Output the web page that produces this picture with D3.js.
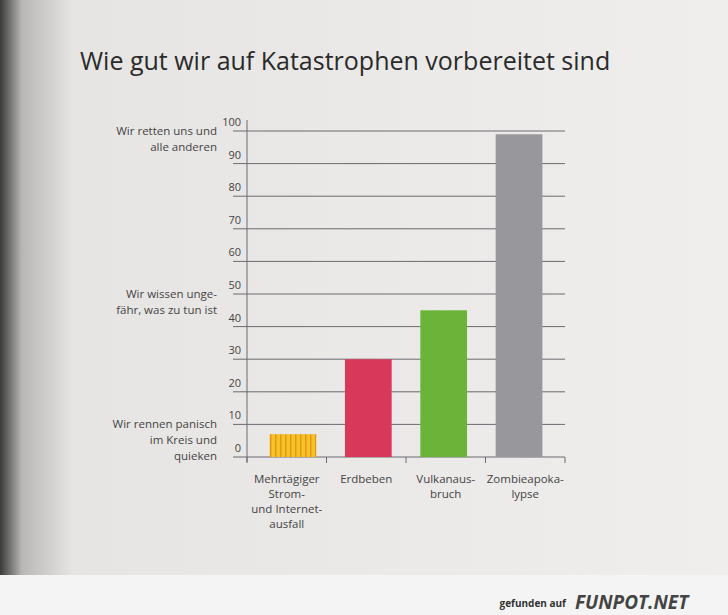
<!DOCTYPE html><html><head><meta charset="utf-8"><script src="https://cdn.jsdelivr.net/npm/d3@7"></script>
<style>body{margin:0}svg{display:block}</style></head><body><script>
const categories=[["Mehrtägiger","Strom-","und Internet-","ausfall"],["Erdbeben"],["Vulkanaus-","bruch"],["Zombieapoka-","lypse"]];
const values=[7,30,45,99];
const colors=["#f2b41e","#d8385a","#6cb33a","#98979c"];
const ticks=[0,10,20,30,40,50,60,70,80,90,100];
const sideLabels=[[100,["Wir retten uns und","alle anderen"]],[50,["Wir wissen unge-","fähr, was zu tun ist"]],[10,["Wir rennen panisch","im Kreis und","quieken"]]];
const W=728,H=615,svg=d3.select("body").append("svg").attr("width",W).attr("height",H);
const defs=svg.append("defs");
const g1=defs.append("linearGradient").attr("id","bg");
g1.append("stop").attr("offset","0").attr("stop-color","#3a3a3a");
g1.append("stop").attr("offset","0.03").attr("stop-color","#b8b7b5");
g1.append("stop").attr("offset","0.1").attr("stop-color","#e6e5e3");
g1.append("stop").attr("offset","1").attr("stop-color","#efeeec");
const pat=defs.append("pattern").attr("id","hatch").attr("width",5).attr("height",6).attr("patternUnits","userSpaceOnUse");
pat.append("rect").attr("width",5).attr("height",6).attr("fill","#f6c22a");
pat.append("rect").attr("width",1.5).attr("height",6).attr("fill","#e29a12");
svg.append("rect").attr("width",W).attr("height",H).attr("fill","url(#bg)");
svg.append("rect").attr("y",575).attr("width",W).attr("height",40).attr("fill","#f4f4f4");
const f="'Open Sans',sans-serif";
svg.append("text").attr("x",80).attr("y",70).attr("font-family",f).attr("font-size",25).attr("fill","#2a2a2a").text("Wie gut wir auf Katastrophen vorbereitet sind");
const x=d3.scaleBand().domain(d3.range(4)).range([247,565]).paddingInner(0.38).paddingOuter(0.3);
const y=d3.scaleLinear().domain([0,100]).range([457,131]);
ticks.forEach(t=>{svg.append("line").attr("x1",233).attr("x2",565).attr("y1",y(t)).attr("y2",y(t)).attr("stroke","#6a6a70").attr("stroke-width",1);
svg.append("text").attr("x",241).attr("y",y(t)-5).attr("text-anchor","end").attr("font-family",f).attr("font-size",11).attr("fill","#444").text(t);});
svg.append("line").attr("x1",247).attr("x2",247).attr("y1",120).attr("y2",462).attr("stroke","#6a6a70");
[0,1,2,3,4].forEach(i=>{const xx=247+i*(318/4);svg.append("line").attr("x1",xx).attr("x2",xx).attr("y1",457).attr("y2",463).attr("stroke","#6a6a70");});
values.forEach((v,i)=>svg.append("rect").attr("x",x(i)).attr("width",x.bandwidth()).attr("y",y(v)).attr("height",y(0)-y(v)).attr("fill",i==0?"url(#hatch)":colors[i]));
categories.forEach((c,i)=>{const cx=247+(i+0.5)*(318/4);c.forEach((l,k)=>svg.append("text").attr("x",cx).attr("y",483+k*15).attr("text-anchor","middle").attr("font-family",f).attr("font-size",11.5).attr("fill","#444").text(l));});
sideLabels.forEach(([v,ls])=>ls.forEach((l,k)=>svg.append("text").attr("x",217).attr("y",y(v)+4+k*16).attr("text-anchor","end").attr("font-family",f).attr("font-size",11.5).attr("fill","#444").text(l)));
svg.append("text").attr("x",566).attr("y",607).attr("text-anchor","end").attr("font-family",f).attr("font-size",10).attr("font-weight","bold").attr("fill","#333").text("gefunden auf");
svg.append("text").attr("x",575).attr("y",609).attr("font-family",f).attr("font-size",19).attr("font-weight","bold").attr("font-style","italic").attr("fill","#444").text("FUNPOT.NET");
</script></body></html>
